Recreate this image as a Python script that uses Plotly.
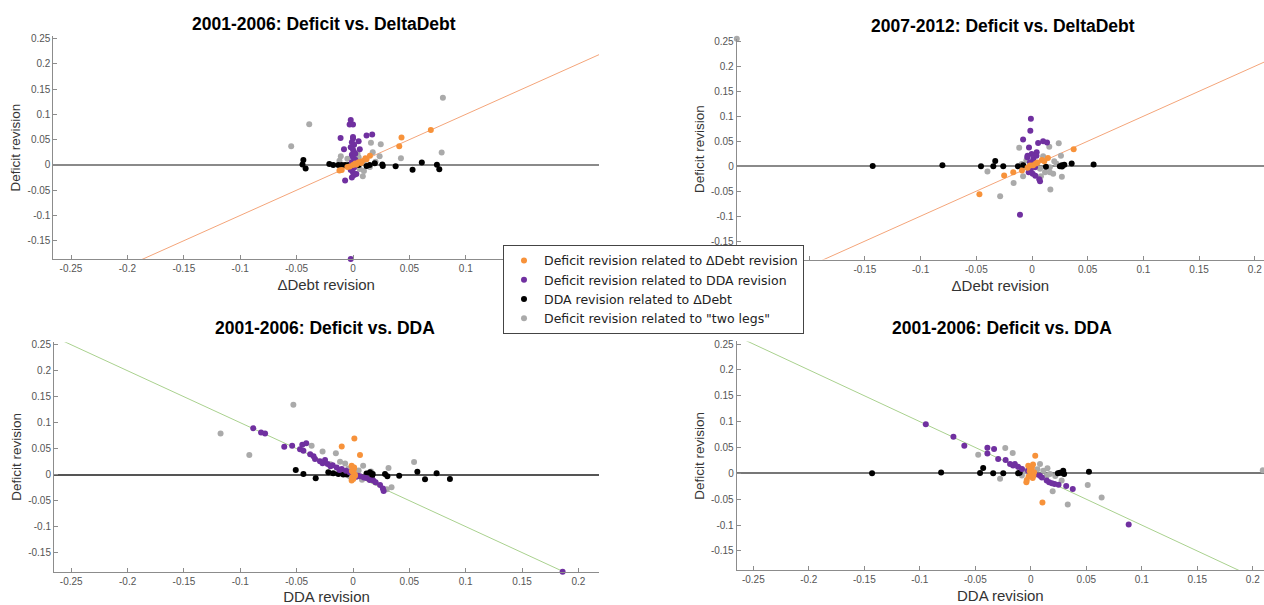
import plotly.graph_objects as go
from plotly.subplots import make_subplots

# ---------------- data ----------------
x_tickvals = [-0.25, -0.2, -0.15, -0.1, -0.05, 0, 0.05, 0.1, 0.15, 0.2]
x_ticktext = ["-0.25", "-0.2", "-0.15", "-0.1", "-0.05", "0", "0.05", "0.1", "0.15", "0.2"]
# labels that sit under the legend box in the original are left blank
x_ticktext_top_left = ["-0.25", "-0.2", "-0.15", "-0.1", "-0.05", "0", "0.05", "0.1", "", ""]
x_ticktext_top_right = ["", "", "-0.15", "-0.1", "-0.05", "0", "0.05", "0.1", "0.15", "0.2"]
y_tickvals = [-0.15, -0.1, -0.05, 0, 0.05, 0.1, 0.15, 0.2, 0.25]
y_ticktext = ["-0.15", "-0.1", "-0.05", "0", "0.05", "0.1", "0.15", "0.2", "0.25"]

series_names = ["Deficit revision related to \u0394Debt revision",
                "Deficit revision related to DDA revision",
                "DDA revision related to \u0394Debt",
                "Deficit revision related to \"two legs\""]

titles = ["2001-2006: Deficit vs. DeltaDebt", "2007-2012: Deficit vs. DeltaDebt",
          "2001-2006: Deficit vs. DDA", "2001-2006: Deficit vs. DDA"]
x_titles = ["\u0394Debt revision", "\u0394Debt revision", "DDA revision", "DDA revision"]
y_title = "Deficit revision"

fit_x = [-0.27, 0.22]
debt_fit_y = [-0.27, 0.22]
dda_fit_y = [0.27, -0.22]

# Panel 1: 2001-2006 Deficit vs DeltaDebt
p1_orange_x = [0.069, 0.043, 0.041, 0.015, 0.011, -0.012, -0.010, 0.005, 0.002, -0.003, 0.008, 0.0, 0.012, -0.005, 0.003, 0.007]
p1_orange_y = [0.069, 0.054, 0.037, 0.018, 0.013, -0.011, -0.010, 0.005, 0.003, -0.003, 0.007, 0.0, 0.011, -0.004, 0.001, 0.004]
p1_purple_x = [-0.002, -0.003, 0.0, -0.011, 0.012, 0.017, 0.005, 0.006, -0.008, -0.007, -0.002,
               0.0, -0.001, 0.001, -0.002, 0.0, 0.001, -0.001, 0.0, 0.002, -0.001, 0.0, 0.001,
               -0.002, 0.0, 0.001, -0.001, 0.0, 0.002, 0.003]
p1_purple_y = [0.089, 0.080, 0.080, 0.053, 0.058, 0.060, 0.047, 0.031, 0.031, -0.031, -0.186,
               0.052, 0.045, 0.040, 0.035, 0.030, 0.025, 0.020, 0.015, 0.010, 0.005, 0.000, -0.005,
               -0.010, -0.015, -0.020, -0.025, 0.055, 0.022, -0.018]
p1_black_x = [-0.044, -0.0448, -0.042, -0.021, -0.0175, -0.013, -0.010, -0.007, -0.004, 0.0, 0.005,
              0.0148, 0.0193, 0.0264, 0.026, 0.0378, 0.0528, 0.061, 0.0744, 0.0765, 0.012]
p1_black_y = [0.0095, 0.001, -0.007, 0.002, 0.0, 0.0, 0.0, 0.0, 0.0, -0.002, 0.0,
              0.0, 0.0035, -0.002, 0.001, -0.0025, -0.0097, 0.0045, 0.0005, -0.0085, -0.002]
p1_gray_x = [0.0797, -0.0388, -0.0548, 0.0786, 0.0159, 0.0246, 0.0425, 0.0175, -0.0108, 0.0236, 0.0087,
             0.0097, -0.012, -0.005, 0.005, 0.010, 0.006, -0.003, 0.015, 0.020, 0.004]
p1_gray_y = [0.133, 0.0805, 0.037, 0.0245, 0.044, 0.041, 0.013, 0.025, 0.017, 0.017, -0.0225,
             -0.012, 0.008, 0.012, 0.015, 0.008, -0.008, -0.005, -0.004, 0.006, 0.022]

# Panel 2: 2007-2012 Deficit vs DeltaDebt
p2_orange_x = [-0.0472, -0.025, -0.0168, -0.009, 0.0374, 0.0143, 0.0089, -0.0018, 0.0035, 0.005, 0.001, -0.004, 0.011]
p2_orange_y = [-0.0564, -0.0186, -0.012, -0.0086, 0.0339, 0.0166, 0.0126, 0.0013, 0.0056, 0.0076, 0.002, -0.003, 0.010]
p2_purple_x = [-0.001, -0.0015, -0.008, -0.0027, 0.0055, 0.010, 0.0135, -0.0108, 0.0065, 0.0072, 0.0042, -0.0003,
               -0.0042, 0.0012, -0.0018, 0.0027, -0.0012, 0.0006, 0.003, -0.004, 0.004, -0.003, 0.002]
p2_purple_y = [0.095, 0.071, 0.0535, 0.0375, 0.0465, 0.050, 0.0475, -0.097, -0.026, -0.030, 0.028, 0.0246,
               0.018, 0.0146, 0.008, -0.002, -0.0086, -0.0153, -0.019, 0.021, 0.021, -0.012, 0.004]
p2_black_x = [-0.143, -0.0804, -0.0458, -0.0347, -0.033, -0.0258, -0.0126, -0.0079, 0.0125, 0.025, 0.0268,
              0.029, 0.0356, 0.0553, 0.027]
p2_black_y = [0.0005, 0.002, 0.0, 0.0, 0.0105, 0.0, 0.0, 0.002, -0.001, 0.0, 0.002,
              0.003, 0.0053, 0.0033, -0.0007]
p2_gray_x = [-0.265, -0.040, -0.0165, -0.0286, 0.0165, 0.0268, 0.0155, 0.024, -0.0115, 0.026, 0.016, -0.0092,
             -0.0063, 0.0072, 0.0117, 0.016, 0.019, 0.020, -0.005, 0.010, 0.008, -0.008, 0.022]
p2_gray_y = [0.255, -0.0105, -0.0335, -0.0604, -0.0465, -0.021, 0.039, 0.046, 0.037, 0.021, -0.012, 0.0046,
             -0.002, -0.0053, -0.012, -0.002, -0.015, 0.010, 0.012, 0.020, -0.020, -0.020, 0.005]

# Panel 3: 2001-2006 Deficit vs DDA
p3_orange_x = [-0.010, 0.0012, 0.0062, -0.0012, 0.0009, 0.0, 0.0018, 0.0003, -0.0012, 0.001, -0.001, 0.0015, -0.0005]
p3_orange_y = [0.0543, 0.0696, 0.0377, 0.0172, 0.0109, 0.0045, -0.002, -0.0083, -0.0115, 0.014, 0.007, 0.001, -0.005]
p3_purple_x = [-0.0885, -0.0816, -0.078, -0.061, -0.054, -0.045, -0.0415, -0.047, -0.044, -0.038, -0.0337, -0.0293,
               -0.0248, -0.0225, -0.018, -0.0145, -0.010, -0.0062, -0.003, 0.0, 0.0043, 0.0062, 0.0096, 0.012,
               0.0148, 0.018, 0.020, 0.024, 0.0265, 0.0272, 0.186, -0.035, -0.027, -0.020, -0.012, 0.003]
p3_purple_y = [0.0894, 0.081, 0.079, 0.0536, 0.0556, 0.0575, 0.0605, 0.049, 0.046, 0.0395, 0.030, 0.0258,
               0.028, 0.0205, 0.018, 0.014, 0.011, 0.0077, 0.0045, 0.001, -0.002, -0.003, -0.0055, -0.0064,
               -0.0102, -0.0115, -0.0147, -0.0198, -0.0265, -0.0315, -0.187, 0.0355, 0.022, 0.016, 0.009, -0.004]
p3_black_x = [-0.0508, -0.044, -0.0331, -0.0219, -0.0175, -0.013, -0.0086, -0.0056, 0.0151, 0.0175, 0.017,
              0.0284, 0.0305, 0.041, 0.0571, 0.0639, 0.0742, 0.086, 0.012]
p3_black_y = [0.009, 0.0013, -0.0071, 0.0045, 0.0026, 0.0013, 0.0005, 0.0005, 0.0045, 0.0013, -0.002,
              0.0013, -0.0032, -0.002, 0.0057, -0.009, 0.0026, -0.0083, 0.002]
p3_gray_x = [-0.0529, -0.1175, -0.092, -0.0367, -0.027, -0.0152, 0.0542, 0.0315, 0.009, 0.0342, -0.0115,
             -0.007, -0.0027, 0.012, -0.020, 0.005, 0.008, 0.020, 0.016, -0.004, 0.030]
p3_gray_y = [0.1347, 0.079, 0.0377, 0.0556, 0.0447, 0.041, 0.0245, 0.0128, 0.0172, -0.0243, 0.025,
             0.0217, -0.0038, -0.002, 0.020, 0.008, -0.010, -0.015, 0.006, 0.012, -0.028]

# Panel 4: 2001-2006 Deficit vs DDA (second)
p4_orange_x = [0.004, 0.0105, -0.004, -0.0036, -0.0023, -0.0007, 0.0008, 0.0023, 0.0017, 0.001, -0.001, 0.003, -0.002, 0.002]
p4_orange_y = [0.034, -0.0565, -0.0173, -0.0127, 0.0148, 0.0085, 0.0019, -0.0044, -0.0088, 0.011, 0.004, 0.002, -0.006, 0.017]
p4_purple_x = [-0.0946, -0.0697, -0.0599, -0.0391, -0.0331, -0.0391, -0.0294, -0.0227, -0.0187, -0.0143, -0.0115,
               -0.0079, -0.0025, 0.0082, 0.0143, 0.0165, 0.0214, 0.0319, 0.0378, 0.0882, -0.016, 0.004, 0.010,
               0.019, 0.025]
p4_purple_y = [0.095, 0.0706, 0.0533, 0.0497, 0.0469, 0.0385, 0.0277, 0.0258, 0.018, 0.018, 0.0129,
               0.0085, 0.0052, -0.0044, -0.014, -0.0173, -0.0204, -0.0246, -0.030, -0.0987, 0.015, -0.002, -0.008,
               -0.019, -0.022]
p4_black_x = [-0.143, -0.0808, -0.0457, -0.0429, -0.0339, -0.0248, -0.0114, -0.010, 0.0262, 0.0292, 0.030,
              0.0524, 0.0244, 0.028]
p4_black_y = [0.0, 0.0015, 0.0005, 0.0103, 0.0, 0.0, 0.0, 0.001, 0.0013, 0.0052, -0.0012,
              0.0033, 0.0, 0.001]
p4_gray_x = [-0.0474, -0.0277, -0.023, -0.0163, 0.0197, 0.0333, 0.0513, 0.0638, 0.0083, 0.0113, 0.0143,
             0.0173, 0.0278, -0.010, -0.005, 0.0, 0.006, 0.015, 0.022, -0.008, 0.209]
p4_gray_y = [0.036, -0.0102, 0.0488, 0.0392, -0.0346, -0.0602, -0.0223, -0.0467, 0.018, 0.0052, -0.0044,
             -0.0013, -0.014, 0.010, 0.004, 0.012, 0.008, 0.010, -0.005, -0.004, 0.006]

# ---------------- styling ----------------
colors = ["#F7923A", "#7030A0", "#000000", "#AAAAAA"]
debt_line_color = "#F4A57A"
dda_line_color = "#A9D18E"
FONT = "Arial, Liberation Sans, Helvetica, sans-serif"
LEGEND_FONT = "DejaVu Sans, Arial, sans-serif"

W, H = 1264, 605

panels = [
    dict(orange=(p1_orange_x, p1_orange_y), purple=(p1_purple_x, p1_purple_y),
         black=(p1_black_x, p1_black_y), gray=(p1_gray_x, p1_gray_y), fit=debt_fit_y, fitc=debt_line_color,
         xd=(53.4, 599.0), x0=353.0, xs=1128.0, y0=162.7, ys=508.0, zc="#8a8a8a",
         tx=324.0, ty=20.7, xtt=x_ticktext_top_left),
    dict(orange=(p2_orange_x, p2_orange_y), purple=(p2_purple_x, p2_purple_y),
         black=(p2_black_x, p2_black_y), gray=(p2_gray_x, p2_gray_y), fit=debt_fit_y, fitc=debt_line_color,
         xd=(736.7, 1264.0), x0=1032.0, xs=1114.0, y0=164.0, ys=502.0, zc="#8a8a8a",
         tx=1003.0, ty=22.7, xtt=x_ticktext_top_right),
    dict(orange=(p3_orange_x, p3_orange_y), purple=(p3_purple_x, p3_purple_y),
         black=(p3_black_x, p3_black_y), gray=(p3_gray_x, p3_gray_y), fit=dda_fit_y, fitc=dda_line_color,
         xd=(54.0, 599.0), x0=353.0, xs=1127.0, y0=474.0, ys=522.0, zc="#555555",
         tx=324.7, ty=326.7, xtt=x_ticktext),
    dict(orange=(p4_orange_x, p4_orange_y), purple=(p4_purple_x, p4_purple_y),
         black=(p4_black_x, p4_black_y), gray=(p4_gray_x, p4_gray_y), fit=dda_fit_y, fitc=dda_line_color,
         xd=(736.7, 1264.0), x0=1030.8, xs=1110.0, y0=472.7, ys=520.0, zc="#777777",
         tx=1002.0, ty=326.7, xtt=x_ticktext),
]

Y_MIN, Y_MAX = -0.187, 0.255

fig = make_subplots(rows=2, cols=2)

order = [("gray", 3, 4), ("black", 2, 3), ("purple", 1, 2), ("orange", 0, 1)]

for i, p in enumerate(panels):
    r, c = i // 2 + 1, i % 2 + 1
    fig.add_trace(go.Scatter(x=fit_x, y=p["fit"], mode="lines",
                             line=dict(color=p["fitc"], width=1), showlegend=False,
                             hoverinfo="skip"), row=r, col=c)
    for key, ci, rank in order:
        xs_, ys_ = p[key]
        fig.add_trace(go.Scatter(x=xs_, y=ys_, mode="markers",
                                 marker=dict(color=colors[ci], size=6, line=dict(width=0)),
                                 name=series_names[ci], legendgroup=key, legendrank=rank,
                                 cliponaxis=False,
                                 showlegend=(i == 0)), row=r, col=c)

    axn = "" if i == 0 else str(i + 1)
    xl, xr = p["xd"]
    xmin = (xl - p["x0"]) / p["xs"]
    xmax = (xr - p["x0"]) / p["xs"]
    ytop = p["y0"] - Y_MAX * p["ys"]
    ybot = p["y0"] - Y_MIN * p["ys"]
    fig.layout["xaxis" + axn].update(
        domain=[xl / W, xr / W], range=[xmin, xmax],
        tickvals=x_tickvals, ticktext=p["xtt"],
        showline=True, linecolor="#8c8c8c", linewidth=1, mirror=False,
        ticks="inside", ticklen=4, tickcolor="#8c8c8c",
        showgrid=False, zeroline=False,
        tickfont=dict(size=10, color="#555555", family=FONT),
        title=dict(text=x_titles[i], font=dict(size=15, color="#333333", family=FONT), standoff=6),
    )
    fig.layout["yaxis" + axn].update(
        domain=[1 - ybot / H, 1 - ytop / H], range=[Y_MIN, Y_MAX],
        tickvals=y_tickvals, ticktext=y_ticktext,
        showline=True, linecolor="#8c8c8c", linewidth=1, mirror=False,
        ticks="inside", ticklen=4, tickcolor="#8c8c8c",
        showgrid=False, zeroline=True, zerolinecolor=p["zc"], zerolinewidth=1.5,
        tickfont=dict(size=10, color="#555555", family=FONT),
        title=dict(text=y_title, font=dict(size=13.5, color="#333333", family=FONT), standoff=3),
    )
    fig.add_annotation(text="<b>" + titles[i] + "</b>", xref="paper", yref="paper",
                       x=p["tx"] / W, y=1 - p["ty"] / H, xanchor="center", yanchor="middle",
                       showarrow=False, font=dict(size=17.5, color="#000000", family=FONT))

fig.update_layout(
    width=W, height=H,
    margin=dict(l=0, r=0, t=0, b=0),
    paper_bgcolor="white", plot_bgcolor="white",
    font=dict(family=FONT),
    legend=dict(x=503 / W, y=1 - 243 / H, xanchor="left", yanchor="top",
                bgcolor="white", bordercolor="#444444", borderwidth=1,
                font=dict(size=12.5, color="#222222", family=LEGEND_FONT),
                traceorder="normal", itemsizing="trace", tracegroupgap=0),
    showlegend=True,
)

fig.write_html("out.html")
